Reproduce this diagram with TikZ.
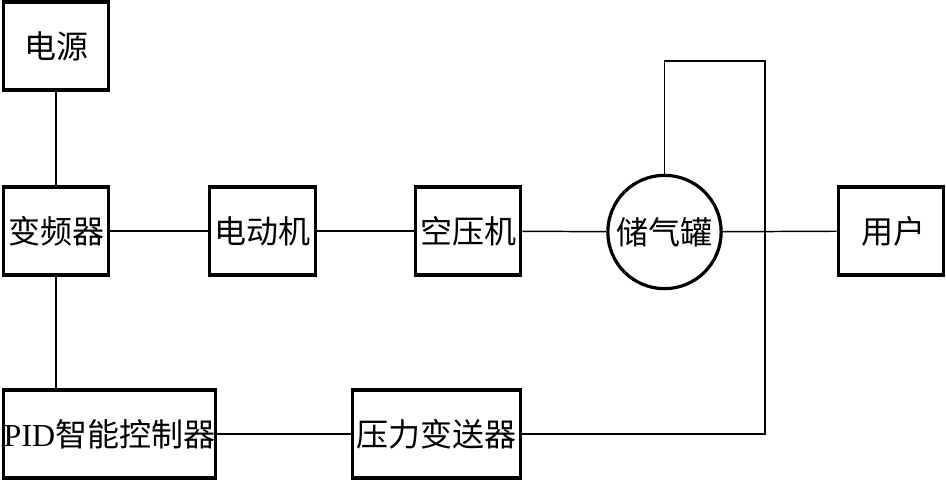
\documentclass[tikz,border=0pt]{standalone}
\usepackage{fontspec}
\usepackage{tikz}
\usetikzlibrary{positioning}
\newfontfamily\cjk{Noto Sans CJK SC}
\newfontfamily\latinserif{Liberation Serif}

\begin{document}
\begin{tikzpicture}[x=0.75pt,y=-0.75pt,
    blk/.style={draw,line width=2.4pt,minimum height=66pt,inner sep=0pt,font=\cjk\fontsize{24}{28}\selectfont},
    tank/.style={draw,circle,line width=2.4pt,minimum size=85pt,inner sep=0pt,font=\cjk\fontsize{24}{28}\selectfont},
    wire/.style={line width=1.1pt}]
  \useasboundingbox (0,0) rectangle (946,481);
  % top row and source
  \node[blk,minimum width=79pt] (power) at (56,46) {电源};
  \node[blk,minimum width=79pt] (vfd) at (56,231) {变频器};
  \node[blk,minimum width=80pt] (motor) at (262.5,231) {电动机};
  \node[blk,minimum width=79pt] (comp) at (468,231) {空压机};
  \node[tank] (tank) at (664.5,232) {储气罐};
  \node[blk,minimum width=79pt,text width=52pt,align=right] (user) at (891,231) {用户};
  % bottom row
  \node[blk,minimum width=159pt] (pid) at (109.5,434) {{\latinserif PID}智能控制器};
  \node[blk,minimum width=126pt] (ptx) at (436.5,434) {压力变送器};
  \coordinate (tr) at (765,61);
  \draw[wire] (power) -- (vfd);
  \draw[wire] (vfd) -- (motor);
  \draw[wire] (motor) -- (comp);
  \draw[wire] (comp) -- (tank);
  \draw[wire] (tank) -- (user);
  \draw[wire] (vfd.south) -- (vfd.south |- pid.north);
  \draw[wire] (pid) -- (ptx);
  % feedback from the tank
  \draw[wire] (tank.north) -- (tank.north |- tr) -- (tr) -- (tr |- ptx.east) -- (ptx.east);
\end{tikzpicture}
\end{document}
